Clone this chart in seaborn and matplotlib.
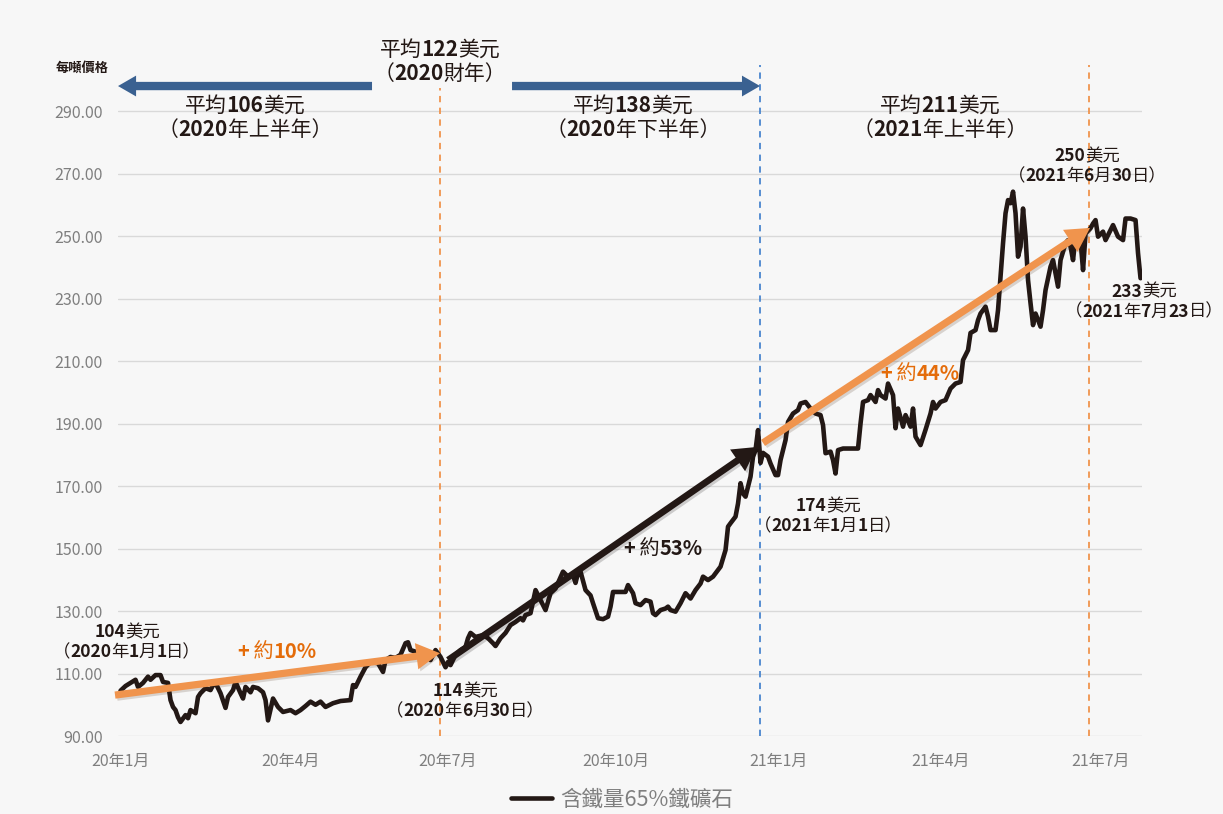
import re
import numpy as np
import pandas as pd
import seaborn as sns
import matplotlib
matplotlib.use("Agg")
import matplotlib.pyplot as plt
import matplotlib.patheffects as pe
from matplotlib.patches import ArrowStyle
from matplotlib.offsetbox import TextArea, HPacker, VPacker, AnnotationBbox

# trading-session index (x) and 65% Fe iron ore price (USD / t)
session = [1, 3, 7, 8, 10, 12, 13, 15, 17, 18, 20, 21, 22, 23, 24, 25, 27, 28, 29, 31,
           32, 33, 35, 37, 38, 39, 41, 43, 44, 46, 47, 49, 50, 51, 53, 54, 56, 58, 59, 60,
           62, 64, 66, 69, 71, 73, 75, 77, 79, 81, 83, 86, 89, 93, 94, 95, 97, 99, 101, 104,
           106, 107, 109, 111, 113, 115, 116, 117, 119, 121, 123, 125, 127, 129, 131, 132, 133, 135, 137, 139,
           140, 141, 143, 146, 148, 150, 151, 153, 155, 157, 159, 161, 162, 163, 165, 167, 169, 171, 173, 175,
           178, 180, 182, 183, 184, 185, 187, 189, 190, 192, 194, 196, 197, 198, 201, 203, 204, 206, 207, 209,
           211, 213, 214, 215, 217, 219, 220, 221, 223, 225, 227, 229, 231, 233, 234, 236, 238, 240, 241, 243,
           244, 245, 247, 248, 249, 250, 251, 253, 254, 255, 256, 257, 258, 260, 261, 263, 264, 265, 267, 268,
           270, 272, 273, 275, 277, 279, 281, 282, 283, 285, 286, 287, 288, 290, 293, 296, 297, 298, 300, 301,
           303, 304, 305, 307, 308, 310, 311, 312, 314, 315, 317, 318, 319, 321, 323, 325, 326, 327, 329, 331,
           333, 335, 337, 338, 340, 341, 343, 344, 345, 347, 348, 349, 351, 352, 353, 354, 355, 356, 357, 358,
           359, 360, 361, 362, 363, 364, 365, 366, 367, 369, 370, 371, 373, 374, 375, 376, 377, 379, 380, 381,
           382, 383, 384, 385, 386, 387, 389, 390, 391, 392, 394, 395, 397, 398, 400, 402, 403, 405, 407, 408,
           409]
price = [104.5, 106.0, 108.0, 105.7, 107.0, 109.0, 108.0, 109.5, 109.5, 107.3, 107.0, 101.5, 99.3, 98.3, 96.0, 94.5, 96.7, 95.7, 98.3, 97.3,
         102.5, 103.7, 105.3, 104.7, 106.3, 107.0, 103.7, 99.0, 102.5, 104.7, 107.3, 103.7, 102.0, 105.7, 104.0, 105.7, 105.3, 104.0, 101.5, 95.0,
         102.0, 99.3, 97.7, 98.3, 97.3, 98.3, 99.6, 101.0, 100.0, 101.0, 99.3, 100.5, 101.2, 101.5, 106.3, 105.7, 109.0, 112.0, 113.7, 113.3,
         110.5, 114.3, 115.3, 115.0, 116.0, 119.7, 120.0, 117.5, 117.0, 115.3, 116.5, 114.3, 117.5, 115.3, 112.0, 113.7, 112.7, 116.0, 117.5, 118.5,
         121.3, 123.0, 121.7, 122.3, 121.3, 119.7, 118.8, 121.3, 123.0, 125.5, 126.5, 127.7, 127.0, 128.7, 129.3, 136.7, 133.5, 130.3, 135.7, 137.2,
         142.6, 141.0, 141.5, 139.0, 142.2, 142.6, 136.7, 135.0, 132.5, 127.7, 127.4, 128.2, 131.4, 136.1, 136.1, 136.1, 138.3, 135.7, 132.5, 131.9,
         133.5, 133.0, 129.3, 128.7, 130.3, 130.8, 131.4, 130.3, 129.8, 132.5, 135.7, 134.0, 136.7, 138.8, 141.0, 139.9, 141.0, 143.1, 144.2, 149.5,
         157.0, 158.1, 160.2, 164.4, 170.9, 167.6, 166.6, 173.0, 179.4, 181.5, 187.9, 177.4, 180.6, 179.4, 177.2, 173.5, 173.5, 178.3, 184.7, 190.5,
         193.2, 194.3, 196.4, 196.9, 194.8, 193.2, 192.7, 189.5, 180.5, 181.0, 178.3, 174.0, 181.5, 182.0, 182.0, 182.0, 190.0, 196.9, 197.5, 199.1,
         196.9, 200.7, 199.1, 198.0, 202.8, 199.1, 188.5, 194.8, 189.0, 192.7, 189.0, 194.8, 185.8, 183.1, 188.0, 193.2, 196.9, 194.8, 196.9, 197.5,
         201.2, 202.8, 203.3, 210.3, 213.5, 219.0, 219.9, 223.1, 225.2, 227.4, 224.2, 219.9, 219.9, 226.3, 237.0, 247.7, 257.3, 261.5, 260.5, 264.2,
         257.3, 243.4, 246.6, 258.8, 249.8, 235.9, 228.5, 221.5, 225.2, 221.0, 226.3, 232.7, 240.2, 242.3, 238.1, 233.8, 242.3, 247.7, 248.7, 246.6,
         242.3, 249.8, 246.6, 248.7, 239.1, 250.8, 252.5, 254.0, 255.1, 249.8, 251.4, 248.7, 251.9, 253.5, 249.8, 248.7, 255.6, 255.6, 255.1, 244.5,
         236.5]

tick_pos = [1, 69, 132, 199, 264, 329, 393]
tick_labels = ["20年1月", "20年4月", "20年7月", "20年10月", "21年1月", "21年4月", "21年7月"]
y_ticks = np.arange(90, 291, 20)

# 2020/6/30, 2021/1/1, 2021/6/30 markers
mark_pos = [128.8, 256.8, 388.3]
mark_top = [297.4, 304.7, 304.7]

INK = "#231815"
ORANGE = "#f0944d"
ORANGE_TXT = "#e46c0a"
BLUE = "#3a6191"
DASH_BLUE = "#4a86cf"
GRID = "#d9d9d9"
GRAY = "#7f7f7f"
BG = "#f7f7f7"

sns.set_theme(style="white")
plt.rcParams["font.family"] = ["Noto Sans CJK TC", "DejaVu Sans"]
plt.rcParams["axes.unicode_minus"] = False

df = pd.DataFrame({"session": session, "price": price})

fig = plt.figure(figsize=(12.23, 8.14), dpi=100, facecolor=BG)
ax = fig.add_axes([0.0965, 0.0958, 0.8373, 0.8243], facecolor=BG)

sns.lineplot(data=df, x="session", y="price", color=INK, lw=3.3, ax=ax,
             label="含鐵量65%鐵礦石", zorder=2)

ax.set_xlim(0, 409.6)
ax.set_ylim(90, 304.72)
ax.set_yticks(y_ticks)
ax.set_yticklabels([f"{v:.2f}" for v in y_ticks])
ax.set_xticks(tick_pos)
ax.set_xticklabels(tick_labels)
ax.tick_params(axis="both", length=0, colors=GRAY, labelsize=11.5)
ax.tick_params(axis="y", pad=11)
ax.tick_params(axis="x", pad=12)
ax.grid(axis="y", color=GRID, lw=1)
ax.set_axisbelow(True)
ax.set_xlabel("")
ax.set_ylabel("")
for s in ax.spines.values():
    s.set_visible(False)

ax.vlines(mark_pos, 90, mark_top, colors=[ORANGE, DASH_BLUE, ORANGE],
          linestyles=(0, (3.5, 3)), lw=1.3, zorder=1, clip_on=False)

handles, labels = ax.get_legend_handles_labels()
ax.get_legend().remove()
fig.legend(handles, labels, loc="center", bbox_to_anchor=(622 / 1223, 1 - 800 / 814),
           frameon=False, fontsize=15.5, labelcolor=GRAY, handlelength=1.9, handletextpad=0.35)

fig.text(82 / 1223, 1 - 68 / 814, "每噸價格", ha="center", va="center",
         fontsize=9.5, fontweight="bold", color=INK)


def arrow(start, end, color, tail, head_w, head_l, shadow=False):
    style = ArrowStyle.Simple(head_length=head_l, head_width=head_w, tail_width=tail)
    effects = [pe.SimplePatchShadow(offset=(1.5, -1.5), alpha=0.18), pe.Normal()] if shadow else []
    ax.annotate("", xy=end, xytext=start, annotation_clip=False,
                arrowprops=dict(arrowstyle=style, fc=color, ec="none", shrinkA=0, shrinkB=0,
                                mutation_scale=20, path_effects=effects), zorder=4)


def rich(x, y, lines, size, color, sep=1.5):
    rows = []
    for line in lines:
        parts = [p for p in re.split(r"([0-9%+.]+)", line) if p]
        kids = [TextArea(p, textprops=dict(fontsize=size, color=color,
                                           fontweight="bold" if re.match(r"[0-9%+.]", p) else "normal"))
                for p in parts]
        rows.append(HPacker(children=kids, align="baseline", pad=0, sep=0))
    box = VPacker(children=rows, align="center", pad=0, sep=sep)
    ax.add_artist(AnnotationBbox(box, (x, y), frameon=False, box_alignment=(0.5, 0.5),
                                 annotation_clip=False, zorder=5))


# period averages
arrow((101.6, 298), (0, 298), BLUE, 0.3, 0.75, 0.65)
arrow((157.6, 298), (256.8, 298), BLUE, 0.3, 0.75, 0.65)
rich(128.8, 305.8, ["平均122美元", "（2020財年）"], 15, INK)
rich(50.8, 287.8, ["平均106美元", "（2020年上半年）"], 15, INK)
rich(206.0, 287.8, ["平均138美元", "（2020年下半年）"], 15, INK)
rich(328.8, 287.8, ["平均211美元", "（2021年上半年）"], 15, INK)

# trend arrows
arrow((-1.2, 103.1), (128.8, 116.5), ORANGE, 0.26, 0.95, 0.85, shadow=True)
arrow((132, 114.3), (255.6, 182.5), INK, 0.24, 0.95, 0.85, shadow=True)
arrow((258, 183.8), (388.8, 252.6), ORANGE, 0.26, 0.95, 0.85, shadow=True)
rich(63.6, 116.9, ["+ 約10%"], 14.5, ORANGE_TXT)
rich(218.0, 149.8, ["+ 約53%"], 14.5, INK)
rich(320.8, 205.8, ["+ 約44%"], 14.5, ORANGE_TXT)

# point labels
rich(3.6, 120.1, ["104美元", "（2020年1月1日）"], 12.5, INK)
rich(139.0, 101.2, ["114美元", "（2020年6月30日）"], 12.5, INK)
rich(284.0, 160.4, ["174美元", "（2021年1月1日）"], 12.5, INK)
rich(387.6, 272.4, ["250美元", "（2021年6月30日）"], 12.5, INK)
rich(410.4, 229.0, ["233美元", "（2021年7月23日）"], 12.5, INK)

fig.savefig("out.png", dpi=100, facecolor=BG)
